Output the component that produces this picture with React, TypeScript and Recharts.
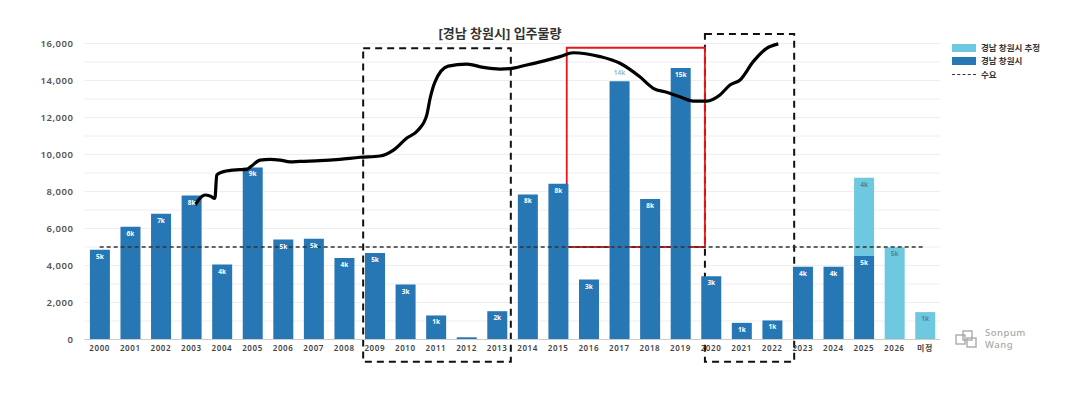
import React from 'react';
import {
  ComposedChart, Bar, Line, XAxis, YAxis, CartesianGrid, LabelList, ReferenceArea,
} from 'recharts';

const categories = ['2000','2001','2002','2003','2004','2005','2006','2007','2008','2009','2010','2011','2012','2013','2014','2015','2016','2017','2018','2019','2020','2021','2022','2023','2024','2025','2026','미정'];
const supply: (number | null)[] = [4850, 6100, 6800, 7780, 4050, 9300, 5400, 5450, 4400, 4680, 2970, 1300, 120, 1530, 7840, 8420, 3240, 13960, 7600, 14680, 3420, 900, 1030, 3930, 3930, 4520, null, null];
const estimate: (number | null)[] = [null, null, null, null, null, null, null, null, null, null, null, null, null, null, null, null, null, null, null, null, null, null, null, null, null, 4220, 4990, 1480];
const demand = 5000;

// hand-drawn trend annotation, x in category-index units
const trendX = [3.62, 3.95, 4.11, 4.27, 4.33, 4.49, 4.87, 5.31, 5.47, 5.74, 6.07, 6.40, 6.73, 7.05, 7.71, 8.36, 9.02, 9.67, 10.11, 10.54, 10.92, 11.20, 11.31, 11.47, 11.90, 12.51, 13.05, 13.60, 13.92, 14.47, 15.01, 15.56, 15.99, 16.87, 17.52, 18.17, 18.61, 19.05, 19.48, 19.92, 20.36, 20.79, 21.12, 21.45, 21.88, 22.32, 22.70];
const trendY = [7270, 7810, 7760, 7630, 8890, 9040, 9160, 9200, 9380, 9700, 9740, 9700, 9600, 9630, 9665, 9740, 9850, 9920, 10240, 10880, 11320, 12130, 13040, 13930, 14780, 14890, 14710, 14620, 14640, 14840, 15050, 15290, 15500, 15290, 14930, 14200, 13580, 13360, 13120, 12890, 12890, 13220, 13760, 14030, 15020, 15740, 15980];

// annotation boxes [x1, x2, y1, y2] in category-index / value units
const dashedBoxes = [
  [9.12, 13.95, -1200, 15740],
  [20.3, 23.22, -1200, 16510],
];
const redBox = [15.78, 20.3, 5000, 15770];

const yTicks = [0,1000,2000,3000,4000,5000,6000,7000,8000,9000,10000,11000,12000,13000,14000,15000,16000];

const DARK = '#2777B5';
const LIGHT = '#6DC8E0';
const FONT = "'Noto Sans', 'Noto Sans CJK KR', sans-serif";

const data = categories.map((c, i) => ({
  cat: c,
  supply: supply[i],
  estimate: estimate[i],
  demand,
}));
const trendData = trendX.map((x, i) => ({ x, v: trendY[i] }));

const OUTSIDE = new Set(['2017']);

const makeLabel = (fill: string) => (props: any) => {
  const { x, y, width, value, index } = props;
  if (value == null || value < 500) return null;
  const txt = Math.round(value / 1000) + 'k';
  const outside = OUTSIDE.has(categories[index]);
  return (
    <text
      x={x + width / 2}
      y={outside ? y - 6 : y + 9}
      textAnchor="middle"
      fontSize={6.5}
      fontWeight={700}
      fontFamily={FONT}
      fill={outside ? '#9fbdd3' : fill}
    >
      {txt}
    </text>
  );
};

export default function App() {
  return (
    <div style={{ position: 'absolute', left: 0, top: 0, width: 1083, height: 402, background: '#fff', fontFamily: FONT }}>
      <ComposedChart
        width={1083}
        height={402}
        data={data}
        margin={{ top: 43.5, right: 142.7, bottom: 32.5, left: 0 }}
        barCategoryGap="18%"
      >
        <CartesianGrid horizontal vertical={false} stroke="#eeeeee" />
        <XAxis
          xAxisId="c"
          dataKey="cat"
          type="category"
          tickLine={false}
          axisLine={{ stroke: '#cccccc' }}
          tickSize={0}
          tickMargin={6}
          interval={0}
          tick={{ fontSize: 8, fill: '#444', fontWeight: 600, letterSpacing: 0.6 }}
        />
        <XAxis xAxisId="n" type="number" dataKey="x" domain={[0, 28]} hide allowDataOverflow />
        <YAxis
          width={84.4}
          domain={[0, 16000]}
          ticks={yTicks}
          interval={0}
          tickFormatter={(v: number) => (v % 2000 === 0 ? v.toLocaleString('en-US') : '')}
          axisLine={false}
          tickLine={false}
          tickSize={0}
          tickMargin={11}
          tick={{ fontSize: 9.5, fill: '#555', fontWeight: 600, letterSpacing: 0.5 }}
        />
        <Bar xAxisId="c" dataKey="supply" stackId="a" fill={DARK} isAnimationActive={false}>
          <LabelList dataKey="supply" content={makeLabel('#ffffff')} />
        </Bar>
        <Bar xAxisId="c" dataKey="estimate" stackId="a" fill={LIGHT} isAnimationActive={false}>
          <LabelList dataKey="estimate" content={makeLabel('#4f8798')} />
        </Bar>
        <Line
          xAxisId="c"
          dataKey="demand"
          stroke="#333"
          strokeWidth={1.5}
          strokeDasharray="4 3"
          dot={false}
          activeDot={false}
          isAnimationActive={false}
        />
        <Line
          xAxisId="n"
          data={trendData}
          dataKey="v"
          type="monotone"
          stroke="#000"
          strokeWidth={3.2}
          dot={false}
          activeDot={false}
          isAnimationActive={false}
        />
        {dashedBoxes.map((b, i) => (
          <ReferenceArea
            key={i}
            xAxisId="n"
            x1={b[0]}
            x2={b[1]}
            y1={b[2]}
            y2={b[3]}
            fill="none"
            fillOpacity={0}
            stroke="#111"
            strokeWidth={2}
            strokeDasharray="7 5"
            ifOverflow="visible"
          />
        ))}
        <ReferenceArea
          xAxisId="n"
          x1={redBox[0]}
          x2={redBox[1]}
          y1={redBox[2]}
          y2={redBox[3]}
          fill="none"
          fillOpacity={0}
          stroke="#e8161b"
          strokeWidth={1.8}
          ifOverflow="visible"
        />
      </ComposedChart>

      <div style={{ position: 'absolute', left: 380, top: 23, width: 240, textAlign: 'center', fontSize: 13, fontWeight: 700, color: '#333' }}>
        [경남 창원시] 입주물량
      </div>

      <div style={{ position: 'absolute', left: 952, top: 41, fontSize: 8.5, fontWeight: 700, color: '#333', lineHeight: '13.3px' }}>
        <div style={{ display: 'flex', alignItems: 'center' }}>
          <span style={{ display: 'inline-block', width: 24, height: 8, background: LIGHT, marginRight: 5 }} />
          경남 창원시 추정
        </div>
        <div style={{ display: 'flex', alignItems: 'center' }}>
          <span style={{ display: 'inline-block', width: 24, height: 8, background: DARK, marginRight: 5 }} />
          경남 창원시
        </div>
        <div style={{ display: 'flex', alignItems: 'center' }}>
          <span style={{ display: 'inline-block', width: 24, height: 0, borderTop: '1.5px dashed #333', marginRight: 5 }} />
          수요
        </div>
      </div>

      <div style={{ position: 'absolute', left: 955, top: 327, display: 'flex', alignItems: 'center', color: '#a8a8a8' }}>
        <svg width={24} height={18} style={{ marginRight: 6 }}>
          <rect x={1} y={5} width={9} height={9} fill="none" stroke="#aaa" strokeWidth={1.4} />
          <rect x={8} y={1} width={9} height={9} fill="none" stroke="#aaa" strokeWidth={1.4} />
          <rect x={12} y={8} width={9} height={9} fill="none" stroke="#aaa" strokeWidth={1.4} />
        </svg>
        <div style={{ fontSize: 9.5, lineHeight: '11.5px', fontWeight: 500, letterSpacing: 0.5 }}>
          <div>Sonpum</div>
          <div>Wang</div>
        </div>
      </div>
    </div>
  );
}
